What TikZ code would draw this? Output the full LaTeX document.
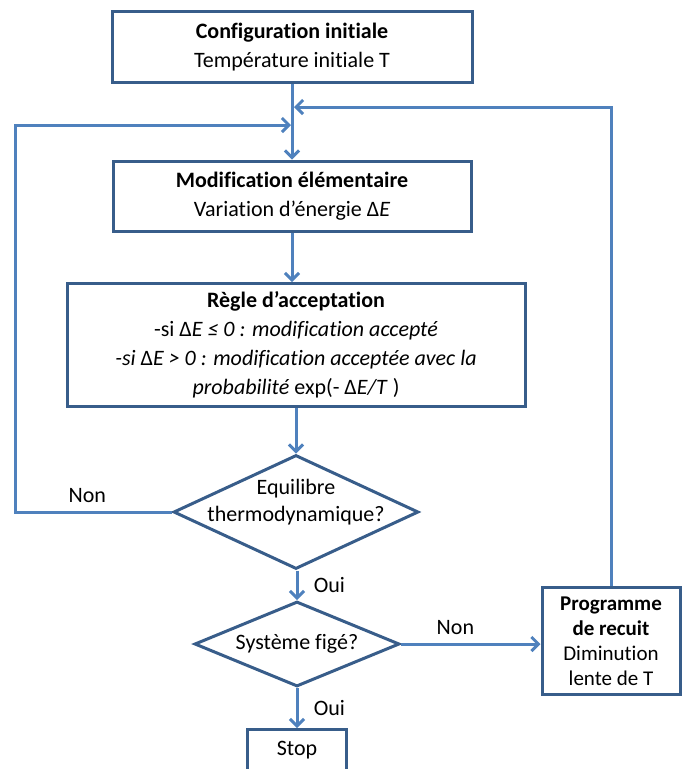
\documentclass[tikz,border=0pt]{standalone}
\usepackage{fontspec}
\setmainfont[Ligatures=CommonOff]{Carlito}
\usetikzlibrary{arrows.meta,shapes.geometric}
\definecolor{flowblue}{RGB}{79,129,189}
\definecolor{edgeblue}{RGB}{56,93,138}

\begin{document}
\begin{tikzpicture}[x=1pt,y=-1pt,>={Straight Barb[length=7pt,width=14pt]},
  box/.style={draw=edgeblue,line width=3pt,fill=white,align=center,inner sep=0pt,font=\fontsize{22}{29}\selectfont},
  decision/.style={diamond,draw=edgeblue,line width=3pt,inner sep=0pt},
  flow/.style={draw=flowblue,line width=3pt,->},
  tag/.style={font=\fontsize{22}{27}\selectfont}]

\useasboundingbox (0,0) rectangle (682,769);
\clip (0,0) rectangle (682,769);

% boxes and decisions
\node[box,minimum width=360,minimum height=71] (init) at (292,47) {\textbf{Configuration initiale}\\Température initiale T};
\node[box,minimum width=358,minimum height=70] (modif) at (292,196) {\textbf{Modification élémentaire}\\Variation d’énergie Δ\textit{E}};
\node[box,minimum width=458,minimum height=123] (regle) at (296,345) {\textbf{Règle d’acceptation}\\-si Δ\textit{E ≤ 0 : modification accepté}\\\textit{-si }Δ\textit{E > 0 : modification acceptée avec la}\\\textit{probabilité} exp(- Δ\textit{E/T} )};
\node[decision,minimum width=245,minimum height=114,label={[tag,align=center,yshift=10pt]center:Equilibre\\thermodynamique?}] (equil) at (296,512) {};
\node[decision,minimum width=205,minimum height=85,label={[tag]center:Système figé?}] (fige) at (297,644) {};
\node[box,minimum width=138,minimum height=107,font=\fontsize{21}{25}\selectfont] (recuit) at (611,641) {\textbf{Programme}\\\textbf{de recuit}\\Diminution\\lente de T};
\node[box,minimum width=99,anchor=north,inner ysep=12pt,text depth=40pt] (stop) at (297,728) {Stop};

\coordinate (cornL) at (15,125);
\coordinate (joinL) at (291,125);
\coordinate (joinR) at (294,107);

% connectors
\draw[flow] (init.south) -- (modif.north);
\draw[flow] (modif.south) -- (modif.south |- regle.north);
\draw[flow] (equil.north |- regle.south) -- (equil.north);
\draw[flow] (fige.north |- equil.south) -- node[tag,right=12pt]{Oui} (fige.north);
\draw[flow] (fige.south) -- node[tag,right=12pt]{Oui} (stop.north);
\draw[flow] (equil.west) -- node[tag,above=5pt,pos=0.54]{Non} (equil.west -| cornL) |- (joinL);
\draw[flow] (fige.east) -- node[tag,above=5pt,pos=0.39]{Non} (fige.east -| recuit.west);
\draw[flow] (recuit.north) |- (joinR);
\end{tikzpicture}
\end{document}
